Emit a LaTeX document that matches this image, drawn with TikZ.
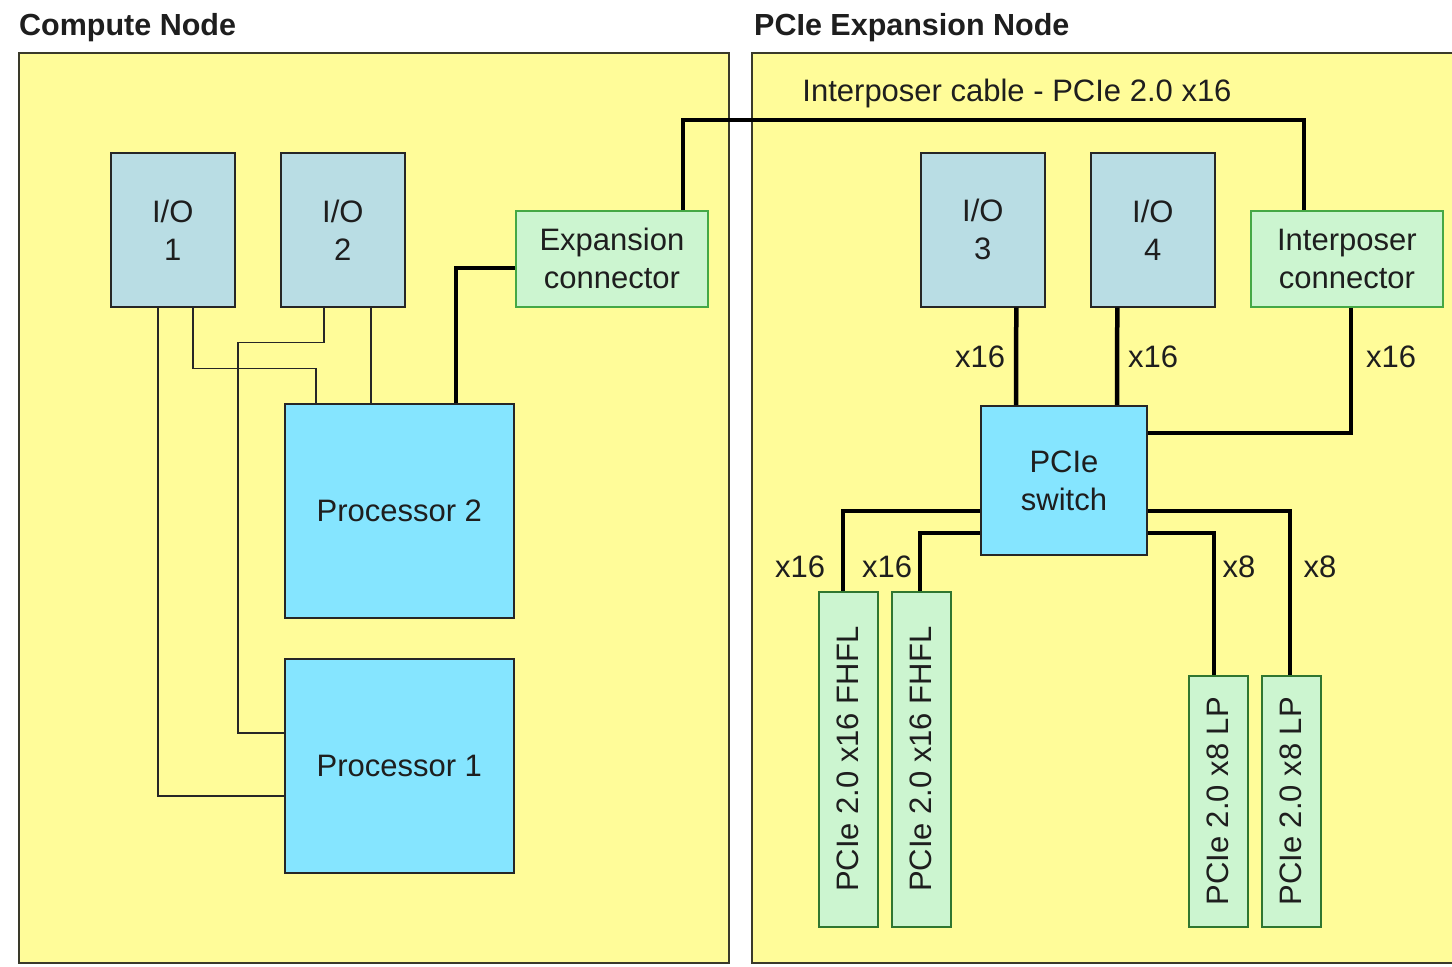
\documentclass[tikz,border=0pt]{standalone}
\usepackage{fontspec}
\setmainfont{Liberation Sans}
\definecolor{bgyellow}{HTML}{FFFC99}
\definecolor{iofill}{HTML}{B9DDE4}
\definecolor{procfill}{HTML}{85E5FF}
\definecolor{grfill}{HTML}{CCF5D0}
\definecolor{grborder}{HTML}{45A845}
\definecolor{txt}{HTML}{1E1E1E}
\definecolor{frame}{HTML}{3A3A2A}
\begin{document}
\begin{tikzpicture}[x=1pt,y=-1pt,
  every node/.style={font=\fontsize{31}{38}\selectfont, text=txt, inner sep=0pt, align=center},
  outerbox/.style={draw=frame, line width=1.6pt, fill=bgyellow},
  title/.style={font=\fontsize{30.5}{34}\selectfont\bfseries, anchor=west},
  iobox/.style={draw=black!85, line width=1.6pt, fill=iofill, minimum width=124pt, minimum height=154pt, anchor=north west},
  procbox/.style={draw=black!85, line width=1.6pt, fill=procfill, minimum width=229pt, minimum height=214pt, anchor=north west},
  conbox/.style={draw=grborder, line width=1.8pt, fill=grfill, minimum width=192pt, minimum height=96pt, anchor=north west},
  cardbox/.style={draw=grborder!70!black, line width=1.6pt, fill=grfill, minimum width=59pt, anchor=north west},
  thinline/.style={draw=black!85, line width=1.5pt},
  thickline/.style={draw=black, line width=4.5pt},
  lbl/.style={font=\fontsize{31}{34}\selectfont}
]
\useasboundingbox (0,0) rectangle (1452,967);
\fill[white] (0,0) rectangle (1452,967);

% outer frames
\node[title] (tc) at (19,28) {Compute Node};
\node[title] (te) at (754,28) {PCIe Expansion Node};
\path[outerbox] (19,53) rectangle (729,963);
\path[outerbox] (752,53) rectangle (1456,963);

% compute node
\node[iobox] (io1) at (110,152) {I/O\\1};
\node[iobox] (io2) at (280,152) {I/O\\2};
\node[conbox] (exp) at (515,210) {Expansion\\connector};
\node[procbox] (p2) at (284,403) {Processor 2};
\node[procbox] (p1) at (284,658) {Processor 1};

\draw[thinline] ([xshift=-15pt]io1.south) |- ([yshift=-30pt]p1.west);
\draw[thinline] ([xshift=20pt]io1.south) -- ++(0,61) -| ([xshift=-83.5pt]p2.north);
\draw[thinline] ([xshift=-19pt]io2.south) -- ++(0,35) -- ++(-86,0) |- ([yshift=33pt]p1.west);
\draw[thinline] ([xshift=28pt]io2.south) -- ([xshift=-28.5pt]p2.north);

\draw[thickline] ([xshift=56.5pt]p2.north) |- ([yshift=-9pt]exp.west);

% expansion node
\node[iobox] (io3) at (920,152) {I/O\\3};
\node[iobox] (io4) at (1090,152) {I/O\\4};
\node[conbox] (ic) at (1250,210) {Interposer\\connector};
\node[draw=black!85, line width=1.6pt, fill=procfill, minimum width=166pt, minimum height=149pt] (sw) at (1064,480.5) {PCIe\\switch};

\node[cardbox, minimum height=335pt] (c1) at (818,591) {};
\node[cardbox, minimum height=335pt] (c2) at (891,591) {};
\node[cardbox, minimum height=251pt] (c3) at (1188,675) {};
\node[cardbox, minimum height=251pt] (c4) at (1261,675) {};
\node[rotate=90] at (c1.center) {PCIe 2.0 x16 FHFL};
\node[rotate=90] at (c2.center) {PCIe 2.0 x16 FHFL};
\node[rotate=90] at (c3.center) {PCIe 2.0 x8 LP};
\node[rotate=90] at (c4.center) {PCIe 2.0 x8 LP};

% cable
\draw[thickline] ([xshift=71pt]exp.north) -- ++(0,-90) -| ([xshift=-43pt]ic.north);
\node (cable) at (1017,93) {Interposer cable - PCIe 2.0 x16};

\draw[thickline] ([xshift=33.5pt]io3.south) -- ([xshift=-48pt]sw.north);
\draw[thickline] ([xshift=-35.5pt]io4.south) -- ([xshift=53pt]sw.north);
\draw[thickline] ([xshift=4pt]ic.south) |- ([yshift=47.5pt]sw.east);

\draw[thickline] ([yshift=-30.5pt]sw.west) -| ([xshift=-5.5pt]c1.north);
\draw[thickline] ([yshift=-52.5pt]sw.west) -| ([xshift=-1.5pt]c2.north);
\draw[thickline] ([yshift=-52.5pt]sw.east) -| ([xshift=-4.5pt]c3.north);
\draw[thickline] ([yshift=-30.5pt]sw.east) -| ([xshift=-1.5pt]c4.north);

\node[lbl] at (980,357) {x16};
\node[lbl] at (1153,357) {x16};
\node[lbl] at (1391,357) {x16};
\node[lbl] at (800,567) {x16};
\node[lbl] at (887,567) {x16};
\node[lbl] at (1239,567) {x8};
\node[lbl] at (1320,567) {x8};
\end{tikzpicture}
\end{document}
